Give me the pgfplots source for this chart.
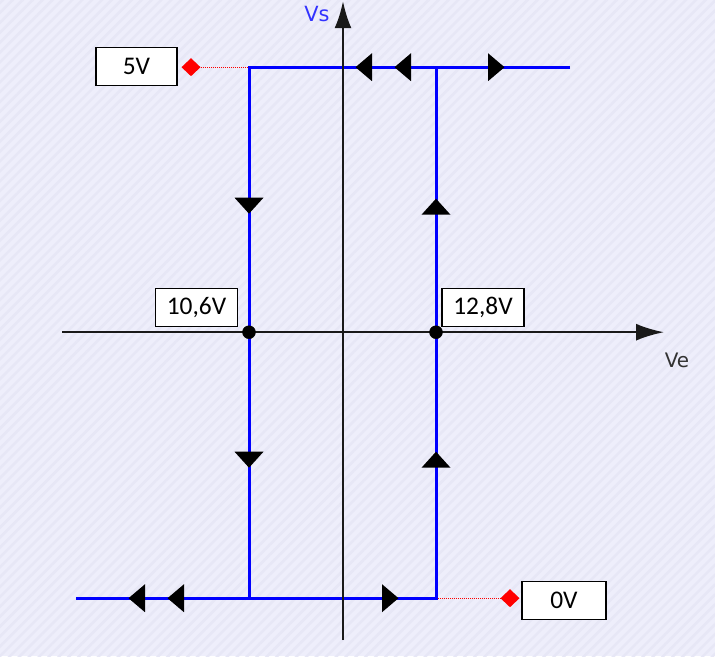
\documentclass[border=0pt]{standalone}
\usepackage{pgfplots}
\pgfplotsset{compat=1.18}
\usepackage{fontspec}
\setmainfont{Carlito}
\newfontfamily\dejavu{DejaVu Sans}
\usetikzlibrary{arrows.meta,patterns.meta}
\definecolor{bg}{RGB}{238,238,251}
\definecolor{stripe}{RGB}{231,231,246}
\definecolor{axisc}{RGB}{25,25,25}
\definecolor{vsblue}{RGB}{50,50,255}
\definecolor{vegray}{RGB}{50,50,50}
\tikzset{boxlab/.style={draw=black, line width=1.3bp, fill=white, inner sep=0pt, minimum height=38bp, font=\fontsize{25.5}{30}\selectfont}}
\pgfdeclareplotmark{tleft}{\pgfpathmoveto{\pgfpoint{-8.5bp}{0bp}}\pgfpathlineto{\pgfpoint{8bp}{14bp}}\pgfpathlineto{\pgfpoint{8bp}{-14bp}}\pgfpathclose\pgfusepathqfill}
\pgfdeclareplotmark{tright}{\pgfpathmoveto{\pgfpoint{8.5bp}{0bp}}\pgfpathlineto{\pgfpoint{-8bp}{14bp}}\pgfpathlineto{\pgfpoint{-8bp}{-14bp}}\pgfpathclose\pgfusepathqfill}
\pgfdeclareplotmark{tdown}{\pgfpathmoveto{\pgfpoint{0bp}{-8bp}}\pgfpathlineto{\pgfpoint{14.5bp}{8bp}}\pgfpathlineto{\pgfpoint{-14.5bp}{8bp}}\pgfpathclose\pgfusepathqfill}
\pgfdeclareplotmark{tup}{\pgfpathmoveto{\pgfpoint{0bp}{8bp}}\pgfpathlineto{\pgfpoint{14.5bp}{-8bp}}\pgfpathlineto{\pgfpoint{-14.5bp}{-8bp}}\pgfpathclose\pgfusepathqfill}
\pgfdeclareplotmark{rdiam}{\pgfpathmoveto{\pgfpoint{0bp}{9bp}}\pgfpathlineto{\pgfpoint{9.5bp}{0bp}}\pgfpathlineto{\pgfpoint{0bp}{-9bp}}\pgfpathlineto{\pgfpoint{-9.5bp}{0bp}}\pgfpathclose\pgfusepathqfill}
\begin{document}
\begin{tikzpicture}
\begin{axis}[
  scale only axis, width=715bp, height=656bp,
  xmin=0, xmax=715, ymin=0, ymax=656, y dir=reverse,
  axis line style={draw=none}, ticks=none, clip=false,
  axis background/.style={fill=bg, postaction={pattern={Lines[angle=45,distance=7bp,line width=2.5bp]}, pattern color=stripe}},
]
% red dotted leaders
\addplot[red, line width=1.3bp, dash pattern=on 1bp off 1bp] coordinates {(191,67) (249,67)};
\addplot[red, line width=1.3bp, dash pattern=on 1bp off 1bp] coordinates {(436,598) (510,598)};
% blue hysteresis loop
\addplot[blue, line width=3bp] coordinates {(570,67) (249,67) (249,598) (76,598)};
\addplot[blue, line width=3bp] coordinates {(249,598) (436,598) (436,67)};
% axes
\addplot[axisc, line width=2.4bp, -{Latex[length=28bp,width=17bp]}] coordinates {(62,332) (664,332)};
\addplot[axisc, line width=2.4bp, -{Latex[length=27bp,width=17bp]}] coordinates {(343,640) (343,1)};
% direction arrows
\addplot[only marks, mark=tleft, black] coordinates {(364,67) (403,67) (137,598) (176,598)};
\addplot[only marks, mark=tright, black] coordinates {(496,67) (390,598)};
\addplot[only marks, mark=tdown, black] coordinates {(249,205.5) (249,459.5)};
\addplot[only marks, mark=tup, black] coordinates {(436,206.5) (436,459.5)};
% threshold points
\addplot[only marks, mark=*, mark size=6.5bp, black] coordinates {(249,332) (436,332)};
\addplot[only marks, mark=rdiam, red] coordinates {(191,67) (510,598)};
% labels
\node[boxlab, minimum width=81bp] at (axis cs:136.5,66) {5V};
\node[boxlab, minimum width=82bp] at (axis cs:196.5,307) {10,6V};
\node[boxlab, minimum width=82bp] at (axis cs:483,307) {12,8V};
\node[boxlab, minimum width=84bp] at (axis cs:564,600) {0V};
\node[text=vsblue, font=\dejavu\fontsize{21}{24}\selectfont] at (axis cs:317,14) {Vs};
\node[text=vegray, font=\dejavu\fontsize{20}{24}\selectfont] at (axis cs:677,360) {Ve};
\end{axis}
\end{tikzpicture}
\end{document}
